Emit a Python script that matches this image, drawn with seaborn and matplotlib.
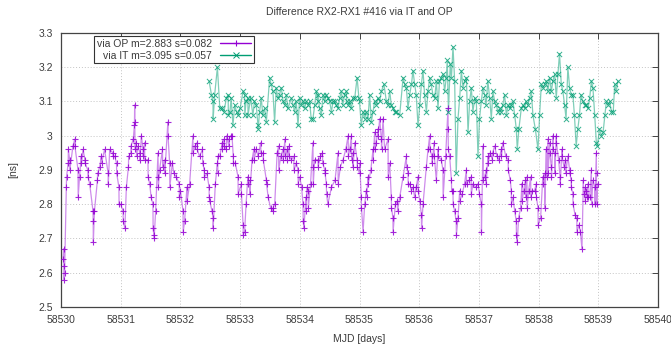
import numpy as np
import pandas as pd
import matplotlib
matplotlib.use("Agg")
import matplotlib.pyplot as plt
from matplotlib.lines import Line2D
from matplotlib.ticker import FormatStrFormatter, MultipleLocator
import seaborn as sns

MJD0 = 58530

# via OP: (days since MJD0, ns)
op_day = [
    0.034, 0.045, 0.047, 0.050, 0.060, 0.090, 0.093, 0.120, 0.123, 0.145, 0.148, 0.200, 0.230, 0.233,
    0.285, 0.288, 0.310, 0.340, 0.343, 0.370, 0.400, 0.403, 0.450, 0.453, 0.480, 0.536, 0.539, 0.542,
    0.560, 0.610, 0.613, 0.650, 0.676, 0.679, 0.730, 0.790, 0.793, 0.815, 0.870, 0.873, 0.900, 0.930,
    0.933, 0.970, 0.973, 1.000, 1.040, 1.043, 1.070, 1.095, 1.130, 1.133, 1.170, 1.173, 1.210, 1.230,
    1.234, 1.237, 1.240, 1.262, 1.265, 1.290, 1.320, 1.323, 1.346, 1.374, 1.377, 1.400, 1.403, 1.457,
    1.460, 1.485, 1.510, 1.540, 1.543, 1.560, 1.563, 1.585, 1.625, 1.628, 1.631, 1.650, 1.700, 1.703,
    1.736, 1.739, 1.790, 1.793, 1.820, 1.823, 1.865, 1.890, 1.930, 1.980, 1.983, 2.000, 2.044, 2.047,
    2.070, 2.110, 2.113, 2.155, 2.210, 2.213, 2.240, 2.280, 2.283, 2.320, 2.370, 2.373, 2.400, 2.403,
    2.445, 2.480, 2.483, 2.490, 2.530, 2.546, 2.549, 2.585, 2.620, 2.623, 2.626, 2.660, 2.700, 2.703,
    2.730, 2.733, 2.770, 2.773, 2.810, 2.813, 2.840, 2.864, 2.886, 2.889, 2.920, 2.965, 2.968, 3.020,
    3.023, 3.050, 3.053, 3.076, 3.100, 3.130, 3.133, 3.160, 3.163, 3.200, 3.230, 3.233, 3.270, 3.300,
    3.345, 3.348, 3.385, 3.388, 3.440, 3.443, 3.470, 3.510, 3.550, 3.553, 3.580, 3.620, 3.645, 3.648,
    3.680, 3.720, 3.723, 3.750, 3.753, 3.786, 3.789, 3.820, 3.823, 3.860, 3.900, 3.903, 3.940, 3.970,
    3.973, 3.998, 4.030, 4.054, 4.057, 4.070, 4.100, 4.103, 4.120, 4.140, 4.143, 4.180, 4.220, 4.223,
    4.226, 4.250, 4.305, 4.308, 4.345, 4.380, 4.383, 4.420, 4.423, 4.445, 4.448, 4.470, 4.530, 4.590,
    4.640, 4.643, 4.680, 4.725, 4.770, 4.810, 4.813, 4.836, 4.865, 4.868, 4.890, 4.893, 4.920, 4.960,
    4.963, 5.000, 5.003, 5.030, 5.033, 5.060, 5.087, 5.115, 5.118, 5.143, 5.146, 5.190, 5.226, 5.229,
    5.254, 5.257, 5.280, 5.310, 5.313, 5.338, 5.366, 5.369, 5.394, 5.420, 5.478, 5.481, 5.506, 5.533,
    5.536, 5.560, 5.563, 5.600, 5.634, 5.637, 5.673, 5.730, 5.785, 5.788, 5.813, 5.816, 5.840, 5.870,
    5.896, 5.924, 5.950, 5.980, 5.983, 6.010, 6.036, 6.039, 6.064, 6.120, 6.148, 6.176, 6.179, 6.215,
    6.218, 6.250, 6.253, 6.287, 6.315, 6.318, 6.370, 6.398, 6.401, 6.443, 6.482, 6.485, 6.488, 6.510,
    6.540, 6.543, 6.566, 6.569, 6.594, 6.620, 6.623, 6.650, 6.678, 6.681, 6.720, 6.760, 6.790, 6.793,
    6.834, 6.870, 6.873, 6.900, 6.946, 6.985, 7.010, 7.040, 7.043, 7.068, 7.071, 7.096, 7.120, 7.123,
    7.150, 7.153, 7.190, 7.225, 7.228, 7.264, 7.300, 7.336, 7.375, 7.378, 7.400, 7.450, 7.490, 7.493,
    7.525, 7.543, 7.546, 7.570, 7.600, 7.626, 7.629, 7.643, 7.665, 7.700, 7.720, 7.723, 7.750, 7.780,
    7.783, 7.805, 7.808, 7.833, 7.867, 7.870, 7.895, 7.934, 7.960, 7.963, 7.990, 7.993, 8.034, 8.070,
    8.073, 8.100, 8.103, 8.130, 8.133, 8.157, 8.160, 8.185, 8.188, 8.213, 8.216, 8.240, 8.243, 8.270,
    8.273, 8.296, 8.299, 8.335, 8.360, 8.363, 8.390, 8.393, 8.425, 8.450, 8.453, 8.490, 8.520, 8.523,
    8.546, 8.549, 8.574, 8.577, 8.610, 8.640, 8.643, 8.675, 8.700, 8.726, 8.750, 8.753, 8.780, 8.783,
    8.800, 8.803, 8.828, 8.831, 8.856, 8.884, 8.887, 8.910, 8.940, 8.943, 8.967, 8.970, 8.973, 8.990,
]
op_ns = [
    2.64, 2.67, 2.62, 2.58, 2.60, 2.85, 2.88, 2.92, 2.96, 2.93, 2.90, 2.97, 2.99, 2.97,
    2.90, 2.82, 2.88, 2.94, 2.92, 2.96, 2.93, 2.92, 2.90, 2.88, 2.86, 2.78, 2.75, 2.69,
    2.78, 2.87, 2.89, 2.91, 2.94, 2.92, 2.96, 2.89, 2.86, 2.96, 2.95, 2.94, 2.94, 2.92,
    2.89, 2.85, 2.80, 2.80, 2.78, 2.75, 2.73, 2.85, 2.91, 2.94, 2.95, 2.97, 2.99, 3.03,
    3.09, 3.04, 2.96, 2.98, 2.94, 2.97, 2.95, 2.93, 3.00, 2.96, 2.94, 2.98, 2.93, 2.93,
    2.88, 2.86, 2.82, 2.80, 2.73, 2.70, 2.71, 2.78, 2.95, 2.88, 2.85, 2.90, 2.96, 2.91,
    2.93, 2.89, 3.04, 3.00, 2.92, 2.85, 2.92, 2.89, 2.88, 2.86, 2.82, 2.84, 2.78, 2.72,
    2.75, 2.85, 2.81, 2.86, 3.00, 2.95, 2.97, 2.98, 2.96, 2.94, 2.96, 2.92, 2.90, 2.88,
    2.89, 2.85, 2.82, 2.81, 2.78, 2.76, 2.73, 2.86, 2.92, 2.89, 2.94, 2.94, 2.98, 2.96,
    2.99, 2.97, 2.96, 3.00, 2.97, 2.99, 3.00, 3.00, 2.94, 2.92, 2.92, 2.88, 2.83, 2.86,
    2.83, 2.74, 2.71, 2.72, 2.80, 2.88, 2.86, 2.87, 2.83, 2.93, 2.96, 2.93, 2.96, 2.94,
    2.98, 2.95, 2.95, 2.93, 2.87, 2.86, 2.82, 2.79, 2.78, 2.79, 2.80, 2.95, 2.97, 2.90,
    2.94, 2.96, 2.93, 2.99, 2.94, 2.96, 2.93, 2.97, 2.94, 2.93, 2.94, 2.90, 2.92, 2.90,
    2.86, 2.88, 2.85, 2.80, 2.75, 2.73, 2.82, 2.78, 2.85, 2.84, 2.79, 2.86, 2.98, 2.91,
    2.86, 2.93, 2.93, 2.91, 2.94, 2.95, 2.92, 2.90, 2.89, 2.86, 2.83, 2.80, 2.85, 2.87,
    2.95, 2.86, 2.91, 2.93, 2.96, 3.00, 2.94, 2.96, 3.00, 2.93, 2.95, 2.91, 2.98, 2.93,
    2.91, 2.89, 2.92, 2.82, 2.79, 2.72, 2.80, 2.84, 2.82, 2.88, 2.86, 2.90, 2.96, 2.93,
    3.01, 2.96, 2.98, 3.02, 3.00, 3.05, 2.99, 2.96, 3.05, 2.96, 2.99, 2.88, 2.92, 2.82,
    2.79, 2.76, 2.72, 2.80, 2.81, 2.78, 2.82, 2.88, 2.94, 2.91, 2.89, 2.86, 2.86, 2.84,
    2.85, 2.82, 2.85, 2.88, 2.84, 2.81, 2.77, 2.73, 2.80, 2.91, 2.96, 3.00, 2.96, 2.94,
    2.92, 2.98, 2.94, 2.87, 2.96, 2.94, 2.93, 2.90, 2.82, 2.94, 3.08, 3.02, 2.96, 2.94,
    2.87, 2.84, 2.84, 2.80, 2.78, 2.75, 2.71, 2.76, 2.84, 2.81, 2.83, 2.86, 2.90, 2.86,
    2.87, 2.88, 2.83, 2.86, 2.85, 2.86, 2.83, 2.80, 2.72, 2.97, 2.87, 2.88, 2.90, 2.86,
    2.94, 2.92, 2.95, 2.93, 2.95, 2.97, 2.94, 2.93, 2.96, 2.94, 2.98, 2.94, 2.93, 2.90,
    2.87, 2.84, 2.80, 2.82, 2.78, 2.75, 2.71, 2.69, 2.76, 2.79, 2.86, 2.81, 2.84, 2.87,
    2.82, 2.88, 2.79, 2.84, 2.88, 2.82, 2.84, 2.84, 2.86, 2.82, 2.79, 2.74, 2.76, 2.88,
    2.86, 2.89, 2.79, 2.96, 2.88, 2.99, 2.89, 2.98, 2.95, 2.91, 2.88, 3.00, 2.96, 2.95,
    2.89, 3.00, 2.98, 2.93, 2.88, 2.86, 2.96, 2.94, 2.91, 2.93, 2.89, 2.94, 2.90, 2.89,
    2.87, 2.85, 2.83, 2.80, 2.77, 2.76, 2.72, 2.74, 2.72, 2.67, 2.87, 2.83, 2.85, 2.81,
    2.84, 2.82, 2.86, 2.82, 2.82, 2.90, 2.80, 2.87, 2.85, 2.80, 2.95, 2.89, 2.80, 2.86,
]

# via IT
it_day = [
    2.480, 2.520, 2.546, 2.549, 2.574, 2.620, 2.660, 2.700, 2.730, 2.770, 2.800, 2.803, 2.830, 2.850,
    2.880, 2.910, 2.940, 2.965, 3.000, 3.050, 3.076, 3.079, 3.100, 3.130, 3.133, 3.176, 3.215, 3.240,
    3.270, 3.300, 3.303, 3.326, 3.355, 3.380, 3.410, 3.440, 3.495, 3.520, 3.550, 3.578, 3.606, 3.630,
    3.660, 3.690, 3.720, 3.750, 3.775, 3.800, 3.860, 3.886, 3.915, 3.940, 3.970, 3.998, 4.026, 4.054,
    4.080, 4.110, 4.138, 4.166, 4.190, 4.220, 4.250, 4.277, 4.305, 4.308, 4.330, 4.360, 4.390, 4.417,
    4.445, 4.470, 4.500, 4.530, 4.556, 4.584, 4.610, 4.640, 4.668, 4.696, 4.720, 4.750, 4.780, 4.783,
    4.810, 4.836, 4.864, 4.890, 4.920, 4.960, 4.990, 5.000, 5.030, 5.060, 5.087, 5.115, 5.143, 5.170,
    5.198, 5.226, 5.254, 5.280, 5.310, 5.338, 5.366, 5.410, 5.450, 5.478, 5.506, 5.533, 5.560, 5.590,
    5.618, 5.673, 5.730, 5.757, 5.785, 5.813, 5.840, 5.870, 5.896, 5.924, 5.950, 5.980, 6.010, 6.036,
    6.064, 6.090, 6.120, 6.148, 6.176, 6.200, 6.230, 6.260, 6.287, 6.315, 6.340, 6.370, 6.398, 6.426,
    6.454, 6.470, 6.490, 6.520, 6.540, 6.566, 6.594, 6.620, 6.650, 6.678, 6.706, 6.734, 6.760, 6.790,
    6.818, 6.845, 6.873, 6.900, 6.930, 6.957, 6.985, 7.010, 7.040, 7.068, 7.096, 7.120, 7.150, 7.180,
    7.208, 7.235, 7.264, 7.290, 7.320, 7.350, 7.375, 7.400, 7.430, 7.460, 7.490, 7.515, 7.543, 7.570,
    7.600, 7.626, 7.643, 7.670, 7.710, 7.740, 7.765, 7.790, 7.820, 7.850, 7.877, 7.905, 7.945, 7.990,
    8.017, 8.045, 8.073, 8.100, 8.130, 8.157, 8.185, 8.213, 8.240, 8.270, 8.296, 8.324, 8.350, 8.380,
    8.407, 8.435, 8.460, 8.490, 8.520, 8.546, 8.574, 8.600, 8.630, 8.657, 8.685, 8.710, 8.740, 8.770,
    8.800, 8.828, 8.856, 8.884, 8.910, 8.940, 8.967, 8.984, 9.020, 9.050, 9.080, 9.110, 9.135, 9.160,
    9.190, 9.220, 9.250, 9.275, 9.300, 9.330,
]
it_ns = [
    3.16, 3.12, 3.10, 3.05, 3.12, 3.20, 3.08, 3.08, 3.07, 3.11, 3.12, 3.06, 3.07, 3.11,
    3.03, 3.09, 3.07, 3.06, 3.08, 3.13, 3.12, 3.06, 3.10, 3.11, 3.06, 3.11, 3.06, 3.10,
    3.09, 3.03, 3.02, 3.07, 3.11, 3.06, 3.08, 3.04, 3.17, 3.15, 3.13, 3.04, 3.14, 3.11,
    3.12, 3.14, 3.10, 3.09, 3.12, 3.08, 3.11, 3.09, 3.07, 3.10, 3.03, 3.11, 3.09, 3.10,
    3.08, 3.10, 3.09, 3.10, 3.05, 3.05, 3.09, 3.13, 3.10, 3.12, 3.08, 3.06, 3.12, 3.10,
    3.12, 3.11, 3.10, 3.07, 3.10, 3.10, 3.09, 3.08, 3.11, 3.13, 3.09, 3.12, 3.13, 3.10,
    3.09, 3.10, 3.08, 3.11, 3.11, 3.17, 3.11, 3.10, 3.03, 3.07, 3.05, 3.07, 3.05, 3.12,
    3.04, 3.07, 3.10, 3.09, 3.11, 3.10, 3.13, 3.15, 3.10, 3.09, 3.13, 3.09, 3.08, 3.07,
    3.07, 3.06, 3.17, 3.15, 3.14, 3.08, 3.12, 3.15, 3.19, 3.15, 3.12, 3.03, 3.09, 3.15,
    3.19, 3.12, 3.07, 3.13, 3.17, 3.15, 3.12, 3.11, 3.16, 3.08, 3.16, 3.17, 3.18, 3.13,
    3.17, 3.22, 3.07, 3.21, 3.17, 3.26, 3.16, 2.89, 3.05, 3.11, 3.19, 3.14, 3.16, 3.17,
    3.01, 3.10, 3.14, 3.07, 3.11, 3.10, 2.94, 3.05, 3.10, 3.14, 3.12, 3.09, 3.16, 3.11,
    3.05, 3.13, 3.10, 3.09, 3.07, 3.08, 3.07, 3.09, 3.12, 3.06, 3.09, 3.08, 3.09, 3.10,
    3.06, 3.02, 2.96, 3.02, 3.08, 3.09, 3.08, 3.10, 3.09, 3.11, 3.13, 3.06, 3.02, 2.96,
    3.06, 3.15, 3.14, 3.15, 3.16, 3.13, 3.17, 3.13, 3.16, 3.18, 3.11, 3.18, 3.24, 3.15,
    3.13, 3.09, 3.05, 3.20, 3.14, 3.12, 3.12, 3.06, 2.97, 3.02, 3.06, 3.12, 3.10, 3.09,
    3.09, 3.08, 3.11, 3.16, 3.14, 3.06, 2.98, 2.97, 3.02, 3.00, 3.01, 3.06, 3.10, 3.09,
    3.10, 3.07, 3.07, 3.15, 3.13, 3.16,
]

op_label = "via OP m=2.883 s=0.082"
it_label = "via IT m=3.095 s=0.057"
title = "Difference RX2-RX1 #416 via IT and OP"

op_color = "#9400d3"
it_color = "#009e73"
text_color = "#3c3c3c"

sns.set_style("white")
plt.rcParams["font.family"] = ["Liberation Sans", "DejaVu Sans"]
plt.rcParams["font.size"] = 7.5

op = pd.DataFrame({"mjd": MJD0 + np.array(op_day), "ns": op_ns})
it = pd.DataFrame({"mjd": MJD0 + np.array(it_day), "ns": it_ns})

fig = plt.figure(figsize=(6.71, 3.49), dpi=100)
ax = fig.add_axes([61 / 671, 1 - 307 / 349, 597 / 671, 274 / 349])

# lines (light) then markers (darker), like gnuplot linespoints
sns.lineplot(data=op, x="mjd", y="ns", estimator=None, sort=False, color=op_color,
             lw=0.9, alpha=0.45, ax=ax)
sns.scatterplot(data=op, x="mjd", y="ns", marker="+", color=op_color, s=22,
                linewidth=0.8, alpha=0.85, ax=ax, zorder=3)
sns.lineplot(data=it, x="mjd", y="ns", estimator=None, sort=False, color=it_color,
             lw=0.9, alpha=0.5, ax=ax)
sns.scatterplot(data=it, x="mjd", y="ns", marker="x", color=it_color, s=14,
                linewidth=0.7, alpha=0.8, ax=ax, zorder=3)

ax.set_xlim(58530, 58540)
ax.set_ylim(2.5, 3.3)
ax.xaxis.set_major_locator(MultipleLocator(1))
ax.yaxis.set_major_locator(MultipleLocator(0.1))
ax.xaxis.set_major_formatter(FormatStrFormatter("%d"))
ax.yaxis.set_major_formatter(FormatStrFormatter("%g"))
ax.grid(True, color="#c4c4c4", lw=0.7, ls=(0, (1, 2)))
ax.tick_params(direction="in", length=4, width=0.7, top=True, right=True,
               colors="#444444", labelcolor=text_color, labelsize=7.5, pad=6)
for s in ax.spines.values():
    s.set_color("#444444")
    s.set_linewidth(0.9)

ax.set_xlabel("MJD [days]", color=text_color, fontsize=7.5, labelpad=6)
ax.set_ylabel("[ns]", color=text_color, fontsize=7.5, labelpad=14)
ax.set_title(title, color=text_color, fontsize=7.5, pad=13)

handles = [
    Line2D([], [], color=op_color, lw=1.0, marker="+", ms=5, mew=0.8),
    Line2D([], [], color=it_color, lw=1.0, marker="x", ms=4, mew=0.7),
]
leg = ax.legend(handles, [op_label, it_label], loc="upper right",
                bbox_to_anchor=(193 / 597, 1 - 3 / 274), borderaxespad=0,
                markerfirst=False, handlelength=3.0, handletextpad=0.8,
                labelspacing=0.2, borderpad=0.25, fancybox=False,
                framealpha=1, edgecolor="#333333", fontsize=7.5)
leg.get_frame().set_linewidth(0.8)
for t in leg.get_texts():
    t.set_color(text_color)

fig.savefig("out.png", dpi=100)
